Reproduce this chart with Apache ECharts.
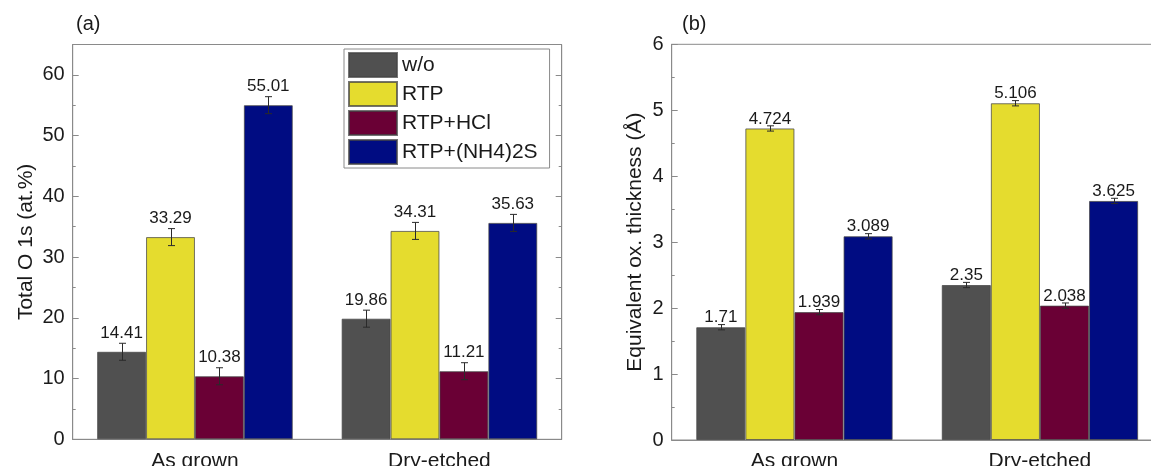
<!DOCTYPE html>
<html>
<head>
<meta charset="utf-8">
<script src="https://cdn.jsdelivr.net/npm/echarts@6/dist/echarts.min.js"></script>
<style>
html,body{margin:0;padding:0;background:#fff;overflow:hidden;}
#chart{width:1190px;height:466px;}
</style>
</head>
<body>
<div id="chart"></div>
<script>
// ---- data ----
const categories = ['As grown', 'Dry-etched'];
const seriesNames = ['w/o', 'RTP', 'RTP+HCl', 'RTP+(NH4)2S'];
// Panel (a): Total O 1s (at.%)
const oxygenWo = [14.41, 19.86];
const oxygenRTP = [33.29, 34.31];
const oxygenHCl = [10.38, 11.21];
const oxygenNH4S = [55.01, 35.63];
const oxygenErr = [[1.4, 1.4], [1.4, 1.4], [1.4, 1.4], [1.4, 1.4]];
// Panel (b): Equivalent oxide thickness (Å)
const thickWo = [1.71, 2.35];
const thickRTP = [4.724, 5.106];
const thickHCl = [1.939, 2.038];
const thickNH4S = [3.089, 3.625];
const thickErr = [[0.04, 0.04], [0.04, 0.04], [0.04, 0.04], [0.04, 0.04]];
const leftTicks = [0, 10, 20, 30, 40, 50, 60];
const rightTicks = [0, 1, 2, 3, 4, 5, 6];

// ---- style ----
const FONT = 'Liberation Sans, Arial, Helvetica, sans-serif';
const colors = ['#505050', '#e5dc2e', '#6a0035', '#000c82'];
const axisGray = '#8a8a8a';
const textColor = '#1a1a1a';

const oxygenVals = [oxygenWo, oxygenRTP, oxygenHCl, oxygenNH4S];
const thickVals = [thickWo, thickRTP, thickHCl, thickNH4S];

function errData(vals, errs) {
  const out = [];
  for (let s = 0; s < vals.length; s++) {
    for (let c = 0; c < categories.length; c++) {
      out.push([c, vals[s][c], errs[s][c], s]);
    }
  }
  return out;
}

function renderErr(params, api) {
  const c = api.value(0), v = api.value(1), e = api.value(2), s = api.value(3);
  const band = api.size([1, 0])[0];
  const barW = band * 0.8 / 4;
  const center = api.coord([c, v]);
  const x = Math.round(center[0] + (s - 1.5) * barW) + 0.5;
  const yTop = api.coord([c, v + e])[1];
  const yBot = api.coord([c, v - e])[1];
  const cap = 3.5;
  const st = { stroke: '#2a2a2a', lineWidth: 1 };
  return {
    type: 'group',
    children: [
      { type: 'line', shape: { x1: x, y1: yTop, x2: x, y2: yBot }, style: st },
      { type: 'line', shape: { x1: x - cap, y1: yTop, x2: x + cap, y2: yTop }, style: st },
      { type: 'line', shape: { x1: x - cap, y1: yBot, x2: x + cap, y2: yBot }, style: st }
    ]
  };
}

function barSeries(vals, axisIdx, labelDist) {
  return vals.map((arr, s) => ({
    name: seriesNames[s],
    type: 'bar',
    xAxisIndex: axisIdx,
    yAxisIndex: axisIdx * 2,
    barCategoryGap: '20%',
    barGap: '0%',
    data: arr,
    itemStyle: { color: colors[s], borderColor: 'rgba(70,70,70,0.75)', borderWidth: 1 },
    label: {
      show: true, position: 'top', distance: labelDist,
      fontFamily: FONT, fontSize: 17, color: textColor,
      formatter: p => String(p.value)
    },
    emphasis: { disabled: true },
    animation: false
  }));
}

function yAxisPair(gridIdx, max, interval, ticks, name, nameGap, showRight) {
  const base = {
    gridIndex: gridIdx, type: 'value', min: 0, max: max, interval: interval,
    splitLine: { show: false },
    axisLine: { show: true, lineStyle: { color: axisGray, width: 1 } },
    axisTick: { show: true, inside: true, length: 6, lineStyle: { color: axisGray } },
    minorTick: { show: true, splitNumber: 2, length: 3, lineStyle: { color: axisGray } },
    minorSplitLine: { show: false }
  };
  const left = Object.assign({}, base, {
    position: 'left',
    name: name, nameLocation: 'middle', nameGap: nameGap, nameRotate: 90,
    nameTextStyle: { fontFamily: FONT, fontSize: 21, color: textColor },
    axisLabel: { show: true, fontFamily: FONT, fontSize: 20, color: textColor, margin: 8,
      formatter: v => (ticks.indexOf(v) >= 0 ? String(v) : '') }
  });
  const right = Object.assign({}, base, {
    position: 'right',
    axisLine: { show: showRight, lineStyle: { color: axisGray, width: 1 } },
    axisTick: { show: showRight, inside: true, length: 6, lineStyle: { color: axisGray } },
    minorTick: { show: showRight, splitNumber: 2, length: 3, lineStyle: { color: axisGray } },
    axisLabel: { show: false }
  });
  return [left, right];
}

const chart = echarts.init(document.getElementById('chart'), null, { renderer: 'canvas' });

const yA = yAxisPair(0, 65, 10, leftTicks, 'Total O 1s (at.%)', 36, true);
const yB = yAxisPair(1, 6, 1, rightTicks, 'Equivalent ox. thickness (Å)', 26, true);

const option = {
  backgroundColor: '#ffffff',
  animation: false,
  textStyle: { fontFamily: FONT },
  title: [
    { text: '(a)', left: 76, top: 14, textStyle: { fontFamily: FONT, fontSize: 20, fontWeight: 'normal', color: textColor }, padding: 0 },
    { text: '(b)', left: 682, top: 14, textStyle: { fontFamily: FONT, fontSize: 20, fontWeight: 'normal', color: textColor }, padding: 0 }
  ],
  legend: {
    data: seriesNames,
    orient: 'vertical',
    left: 344, top: 49,
    itemWidth: 48, itemHeight: 24, itemGap: 3,
    padding: [3, 12, 3, 4],
    borderColor: '#8a8a8a', borderWidth: 1,
    backgroundColor: '#ffffff',
    textStyle: { fontFamily: FONT, fontSize: 21, color: textColor },
    selectedMode: false,
    icon: 'rect'
  },
  grid: [
    { left: 72.7, top: 44.5, width: 489, height: 394.8, outerBoundsMode: 'none', containLabel: false, show: true, borderColor: axisGray, borderWidth: 1, backgroundColor: 'transparent' },
    { left: 671.7, top: 44.3, width: 491, height: 395.7, outerBoundsMode: 'none', containLabel: false, show: true, borderColor: axisGray, borderWidth: 1, backgroundColor: 'transparent' }
  ],
  xAxis: [0, 1].map(g => ({
    gridIndex: g, type: 'category', data: categories,
    axisLine: { show: true, lineStyle: { color: axisGray } },
    axisTick: { show: false },
    axisLabel: { fontFamily: FONT, fontSize: 21, color: textColor, margin: 11 },
    splitLine: { show: false }
  })),
  yAxis: [yA[0], yA[1], yB[0], yB[1]].map((a, i) => Object.assign(a, { gridIndex: i < 2 ? 0 : 1 })),
  series: [
    ...barSeries(oxygenVals, 0, 10),
    ...barSeries(thickVals, 1, 1),
    {
      type: 'custom', xAxisIndex: 0, yAxisIndex: 0, z: 5,
      renderItem: renderErr, encode: { x: 0, y: 1 },
      data: errData(oxygenVals, oxygenErr), silent: true, animation: false
    },
    {
      type: 'custom', xAxisIndex: 1, yAxisIndex: 2, z: 5,
      renderItem: renderErr, encode: { x: 0, y: 1 },
      data: errData(thickVals, thickErr), silent: true, animation: false
    }
  ]
};
chart.setOption(option);
</script>
</body>
</html>
